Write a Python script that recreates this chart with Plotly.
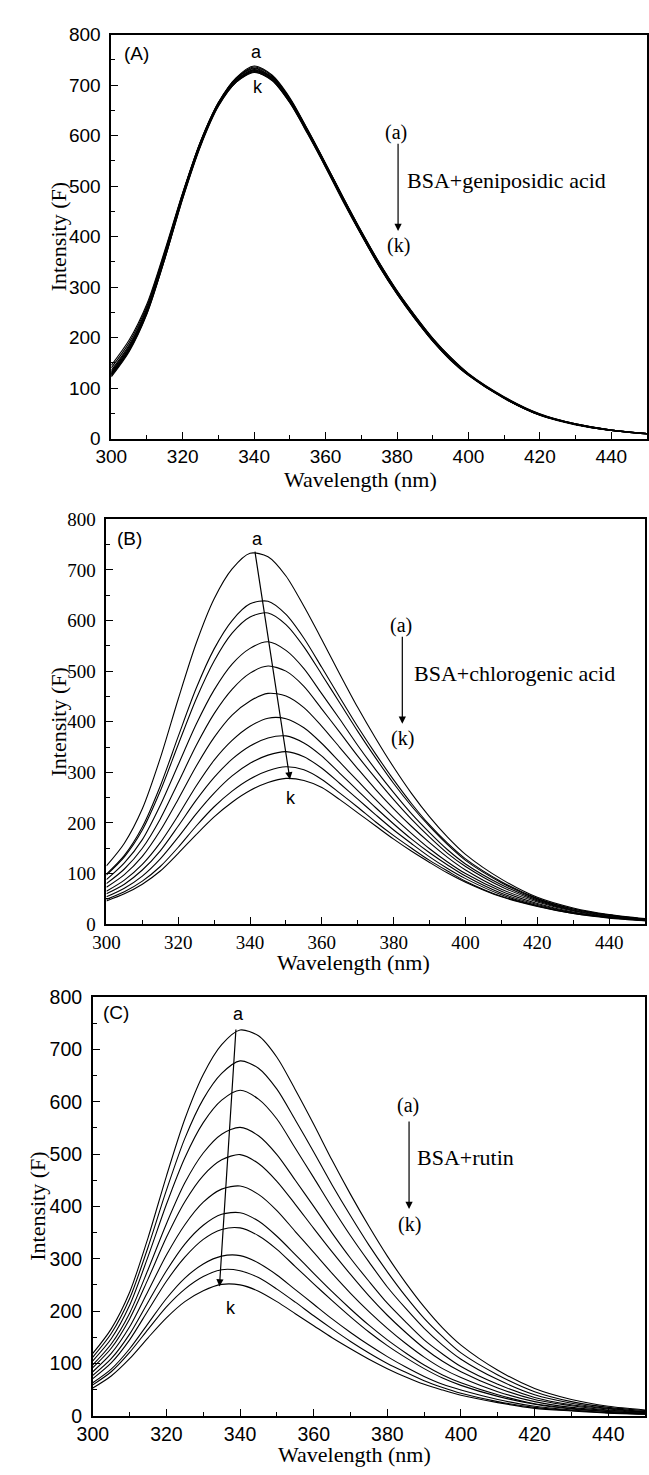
import plotly.graph_objects as go

# ---------------- data ----------------
wavelength = [300, 305, 310, 315, 320, 325, 330, 335, 340, 345, 350, 355, 360,
              365, 370, 375, 380, 385, 390, 395, 400, 410, 420, 430, 440, 450]
curve_names = ["a", "b", "c", "d", "e", "f", "g", "h", "i", "j", "k"]

# (A) BSA + geniposidic acid
A_a = [125,175,250,360,480,585,665,715,738,720,675,612,545,476,410,348,292,243,198,160,128,82,48,29,17,10]
A_b = [130,179,254,363,482,586,664,713,736,718,673,610,543,474,408,346,290,241,196,158,127,81,47,28,17,10]
A_c = [128,178,253,364,484,588,666,714,734,715,671,608,541,472,406,344,289,240,195,157,126,80,47,28,16,10]
A_d = [135,185,259,368,486,589,665,712,733,714,669,606,540,471,405,343,288,239,194,157,126,80,47,28,16,9]
A_e = [122,172,247,356,476,581,661,710,731,716,673,611,545,477,411,349,293,244,199,161,129,83,49,29,17,10]
A_f = [140,190,263,370,485,587,663,710,730,712,667,605,539,470,404,342,287,238,193,156,125,80,46,28,16,9]
A_g = [126,176,251,358,478,582,661,709,729,715,672,610,544,476,410,348,292,243,198,160,128,82,48,29,17,10]
A_h = [145,195,267,373,487,588,663,709,728,710,665,603,537,468,403,341,286,237,193,155,125,79,46,27,16,9]
A_i = [124,174,248,356,475,579,658,706,727,714,671,609,543,475,409,347,291,242,197,159,127,81,48,28,17,10]
A_j = [132,182,257,365,482,584,661,708,726,709,665,604,538,470,404,342,287,238,194,156,126,80,47,28,16,9]
A_k = [128,178,252,360,478,581,659,706,725,711,668,607,541,473,407,345,290,241,196,158,127,81,47,28,16,10]

# (B) BSA + chlorogenic acid
B_a = [115,160,228,328,445,555,643,702,733,726,688,628,562,494,428,367,310,258,212,172,138,89,53,32,19,11]
B_b = [99,136,192,273,371,466,544,600,633,638,612,565,507,448,390,336,285,238,196,160,129,84,51,30,18,10]
B_c = [97,133,186,263,355,445,520,575,607,615,592,548,493,437,381,328,278,233,193,157,126,82,50,30,18,10]
B_d = [88,121,167,235,315,395,463,514,545,558,541,505,455,405,353,305,260,218,181,147,119,78,48,28,17,10]
B_e = [80,109,150,208,280,353,416,464,496,510,500,470,425,379,332,288,246,207,172,140,114,74,46,27,16,10]
B_f = [73,98,134,185,247,312,369,413,441,456,451,428,391,349,307,266,228,193,161,132,107,69,44,26,15,9]
B_g = [65,87,118,161,215,273,324,363,391,407,406,388,357,320,283,246,211,179,149,123,100,65,41,24,14,9]
B_h = [60,79,107,145,194,245,290,326,352,368,372,358,332,298,264,230,198,168,141,117,95,61,39,23,14,8]
B_i = [54,71,95,129,172,218,259,293,318,334,341,331,308,278,247,216,186,159,133,110,90,58,37,22,13,8]
B_j = [49,64,85,114,152,194,232,263,287,303,311,305,286,259,231,202,175,150,126,105,85,55,36,21,13,7]
B_k = [46,60,79,105,140,177,212,241,264,280,288,284,270,246,220,194,168,144,122,101,83,54,35,21,12,7]

# (C) BSA + rutin
C_a = [119,166,236,340,458,567,652,709,737,726,685,623,557,488,423,362,305,254,208,168,135,87,52,31,18,11]
C_b = [112,157,224,322,431,530,605,654,678,664,624,565,504,441,382,326,275,228,186,151,120,78,46,27,16,10]
C_c = [105,147,211,304,404,493,560,603,622,605,567,511,455,398,344,294,246,205,167,135,108,69,40,24,14,8]
C_d = [97,137,196,279,367,445,502,538,551,535,499,450,400,349,301,257,215,179,145,118,94,60,35,21,13,7]
C_e = [92,129,185,261,341,409,459,489,499,482,448,404,358,313,270,229,192,159,129,104,84,53,31,19,11,7]
C_f = [84,119,170,238,307,365,408,433,439,423,392,352,312,272,234,199,167,138,112,90,73,46,27,16,10,6]
C_g = [77,109,156,217,277,328,364,385,388,372,343,308,272,237,204,173,145,120,97,78,63,40,23,14,8,5]
C_h = [71,101,145,201,257,303,337,356,359,344,318,285,252,220,189,160,134,111,90,72,58,37,22,13,8,4]
C_i = [63,89,128,176,224,263,290,305,306,292,269,241,213,185,159,135,113,93,75,60,49,31,18,11,6,4]
C_j = [59,84,121,165,208,242,266,279,277,264,242,217,191,166,142,120,100,83,67,54,43,27,16,10,6,3]
C_k = [53,76,109,149,187,218,239,251,250,238,218,195,172,149,128,108,90,74,60,49,39,25,14,9,5,3]

panel_A = [A_a, A_b, A_c, A_d, A_e, A_f, A_g, A_h, A_i, A_j, A_k]
panel_B = [B_a, B_b, B_c, B_d, B_e, B_f, B_g, B_h, B_i, B_j, B_k]
panel_C = [C_a, C_b, C_c, C_d, C_e, C_f, C_g, C_h, C_i, C_j, C_k]

x_ticks = [300, 320, 340, 360, 380, 400, 420, 440]
y_ticks = [0, 100, 200, 300, 400, 500, 600, 700, 800]

x_title = "Wavelength (nm)"
y_title = "Intensity (F)"

# ---------------- figure ----------------
W_PX, H_PX = 649, 1475
fig = go.Figure()

serif = "Liberation Serif, Times New Roman, serif"
sans = "Liberation Sans, Arial, sans-serif"

panels = [
    # curves, axis suffix, x-domain px, y top px, y bottom px, tick font,
    # x-title centre (px), y-title centre x (px), x-title centre y (px)
    (panel_A, "", (98, 649), 24, 434, sans, 19, 354, 44, 476),
    (panel_B, "2", (93, 647), 516, 927, serif, 19, 347, 44, 966),
    (panel_C, "3", (79, 647), 1001, 1426, sans, 19.5, 348, 22, 1465),
]

annotations = []

for curves, sfx, (xl, xr), yt, yb, tfont, tsize, xtc, ytx, xty in panels:
    for name, vals in zip(curve_names, curves):
        fig.add_trace(go.Scatter(
            x=wavelength, y=vals, mode="lines", name=name, showlegend=False,
            line=dict(color="black", width=1.1, shape="spline", smoothing=0.8),
            xaxis="x" + sfx, yaxis="y" + sfx, hoverinfo="skip"))
    axis_common = dict(
        showgrid=False, zeroline=False, showline=True, linecolor="black",
        linewidth=1.6, mirror=True, ticks="inside", ticklen=7, tickwidth=1.3,
        tickcolor="black", tickfont=dict(family=tfont, size=tsize, color="black"),
    )
    fig.update_layout(**{
        "xaxis" + sfx: dict(
            axis_common, domain=[xl / W_PX, xr / W_PX], range=[300, 450],
            tickvals=x_ticks, anchor="y" + sfx, ticklabelstandoff=0,
            minor=dict(dtick=10, ticks="inside", ticklen=4, tickwidth=1.2, tickcolor="black")),
        "yaxis" + sfx: dict(
            axis_common, domain=[1 - yb / H_PX, 1 - yt / H_PX], range=[0, 800],
            tickvals=y_ticks, anchor="x" + sfx, ticklabelstandoff=5,
            minor=dict(dtick=50, ticks="inside", ticklen=4, tickwidth=1.2, tickcolor="black")),
    })
    # axis titles
    annotations.append(dict(
        text=x_title, x=xtc / W_PX, y=1 - xty / H_PX, xref="paper", yref="paper",
        showarrow=False, xanchor="center", yanchor="middle",
        font=dict(family=serif, size=22, color="black")))
    annotations.append(dict(
        text=y_title, x=ytx / W_PX, y=1 - (yt + yb) / 2 / H_PX, xref="paper", yref="paper",
        showarrow=False, xanchor="center", yanchor="middle", textangle=-90,
        font=dict(family=serif, size=22, color="black")))


def label(text, x, y, sfx, font, size, xanchor="center"):
    annotations.append(dict(
        text=text, x=x, y=y, xref="x" + sfx, yref="y" + sfx, showarrow=False,
        xanchor=xanchor, yanchor="middle",
        font=dict(family=font, size=size, color="black")))


def arrow(x0, y0, x1, y1, sfx):
    annotations.append(dict(
        text="", x=x1, y=y1, ax=x0, ay=y0, xref="x" + sfx, yref="y" + sfx,
        axref="x" + sfx, ayref="y" + sfx, showarrow=True, arrowhead=2,
        arrowsize=1.2, arrowwidth=1.2, arrowcolor="black", standoff=0, startstandoff=0))


# Panel A
label("(A)", 307.1, 763, "", sans, 19)
label("a", 340.6, 766, "", sans, 18)
label("k", 341.1, 697, "", sans, 18)
label("(a)", 379.8, 607, "", serif, 20)
arrow(380.3, 587, 380.3, 411, "")
label("(k)", 380.3, 382, "", serif, 20)
label("BSA+geniposidic acid", 382.2, 511, "", serif, 22, "left")

# Panel B
label("(B)", 306.4, 763, "2", sans, 19)
label("a", 342.0, 761, "2", sans, 18)
arrow(341.3, 739, 351.1, 286, "2")
label("k", 351.3, 250, "2", sans, 18)
label("(a)", 382.0, 591, "2", serif, 20)
arrow(382.4, 571, 382.4, 396, "2")
label("(k)", 382.4, 367, "2", serif, 20)
label("BSA+chlorogenic acid", 385.0, 495, "2", serif, 22, "left")

# Panel C
label("(C)", 306.2, 770, "3", sans, 19)
label("a", 339.6, 767, "3", sans, 18)
arrow(338.9, 741, 334.4, 247, "3")
label("k", 337.6, 206, "3", sans, 18)
label("(a)", 385.6, 592, "3", serif, 20)
arrow(385.9, 565, 385.9, 395, "3")
label("(k)", 385.9, 365, "3", serif, 20)
label("BSA+rutin", 387.6, 493, "3", serif, 22, "left")

fig.update_layout(
    width=W_PX, height=H_PX, autosize=False,
    margin=dict(l=0, r=0, t=0, b=0),
    paper_bgcolor="white", plot_bgcolor="white",
    annotations=annotations, showlegend=False,
)

fig.write_html("out.html")
